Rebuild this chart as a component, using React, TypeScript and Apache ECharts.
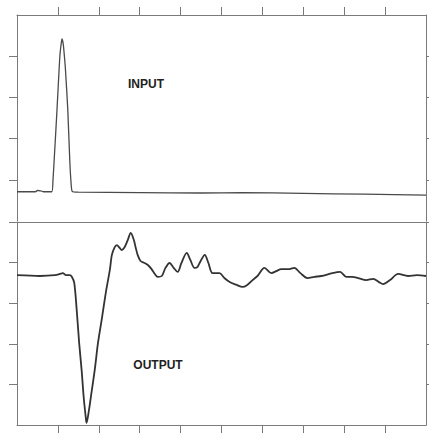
import React, { useEffect, useRef } from "react";
import * as echarts from "echarts";

// Time axis (10 divisions) shared by both panels
const xTicks = [1, 2, 3, 4, 5, 6, 7, 8, 9];
const yTicks = [1, 2, 3, 4];

// INPUT pulse
const inputX = [0, 0.45, 0.5, 0.58, 0.65, 0.85, 0.88, 0.91, 0.95, 0.98, 1.02, 1.05, 1.08, 1.10, 1.13, 1.15, 1.18, 1.20, 1.24, 1.29, 1.32, 1.35, 1.5, 3, 4.5, 5.5, 7, 8.5, 10];
const inputY = [0.71, 0.71, 0.74, 0.73, 0.71, 0.71, 1.0, 1.5, 2.2, 2.74, 3.5, 4.03, 4.3, 4.42, 4.3, 4.10, 3.75, 3.42, 2.74, 1.48, 0.95, 0.72, 0.70, 0.69, 0.68, 0.69, 0.67, 0.65, 0.63];

// OUTPUT response
const outputX = [0, 0.56, 0.93, 1.05, 1.12, 1.20, 1.29, 1.34, 1.40, 1.46, 1.52, 1.58, 1.63, 1.68, 1.70, 1.76, 1.82, 1.90, 1.98, 2.07, 2.17, 2.27, 2.32, 2.39, 2.44, 2.51, 2.56, 2.63, 2.71, 2.78, 2.85, 2.90, 2.95, 3.02, 3.12, 3.20, 3.29, 3.37, 3.44, 3.54, 3.63, 3.73, 3.83, 3.93, 4.02, 4.15, 4.24, 4.34, 4.41, 4.49, 4.59, 4.68, 4.78, 4.95, 5.07, 5.20, 5.37, 5.51, 5.63, 5.76, 5.88, 6.05, 6.22, 6.34, 6.46, 6.66, 6.78, 6.93, 7.10, 7.27, 7.44, 7.71, 7.90, 8.05, 8.20, 8.34, 8.54, 8.71, 8.85, 8.95, 9.12, 9.32, 9.56, 9.78, 10];
const outputY = [3.69, 3.67, 3.69, 3.72, 3.74, 3.69, 3.69, 3.65, 3.50, 2.83, 2.02, 1.35, 0.69, 0.20, 0.05, 0.37, 0.79, 1.35, 2.02, 2.59, 3.25, 3.82, 4.19, 4.38, 4.43, 4.36, 4.31, 4.38, 4.56, 4.73, 4.58, 4.38, 4.19, 4.04, 3.99, 3.94, 3.84, 3.72, 3.65, 3.67, 3.87, 3.99, 3.87, 3.77, 3.99, 4.24, 4.06, 3.87, 3.89, 4.04, 4.19, 3.99, 3.74, 3.74, 3.62, 3.52, 3.45, 3.40, 3.45, 3.57, 3.67, 3.87, 3.74, 3.79, 3.84, 3.84, 3.87, 3.74, 3.62, 3.65, 3.67, 3.74, 3.77, 3.65, 3.65, 3.62, 3.57, 3.60, 3.52, 3.47, 3.57, 3.72, 3.67, 3.69, 3.67];

const AXIS = "#7a7a7a";
const INK = "#333333";

export default function App() {
  const ref = useRef<HTMLDivElement>(null);
  useEffect(() => {
    if (!ref.current) return;
    const chart = echarts.init(ref.current, null, { renderer: "svg" });
    const line = { show: true, onZero: false, lineStyle: { color: AXIS, width: 1 } };
    const xBase = { type: "value", min: 0, max: 10, interval: 1, splitLine: { show: false }, axisLabel: { show: false } };
    const yBase = { type: "value", min: 0, max: 5, interval: 1, splitLine: { show: false }, axisLabel: { show: false } };
    chart.setOption({
      animation: false,
      backgroundColor: "#ffffff",
      grid: [
        { left: 17, top: 15, right: 3, height: 206 },
        { left: 17, top: 222, right: 3, height: 203 },
      ],
      xAxis: [
        { ...xBase, gridIndex: 0, position: "top", axisLine: line, axisTick: { show: true, inside: false, length: 8, customValues: xTicks, lineStyle: { color: AXIS } } },
        { ...xBase, gridIndex: 1, position: "bottom", axisLine: line, axisTick: { show: true, inside: false, length: 8, customValues: xTicks, lineStyle: { color: AXIS } } },
        { ...xBase, gridIndex: 1, position: "top", axisLine: line, axisTick: { show: false } },
      ],
      yAxis: [
        { ...yBase, gridIndex: 0, position: "left", axisLine: line, axisTick: { show: true, inside: false, length: 8, customValues: yTicks, lineStyle: { color: AXIS } } },
        { ...yBase, gridIndex: 0, position: "right", axisLine: line, axisTick: { show: true, inside: false, length: 4, customValues: yTicks, lineStyle: { color: AXIS } } },
        { ...yBase, gridIndex: 1, position: "left", axisLine: line, axisTick: { show: true, inside: false, length: 8, customValues: [1, 2, 3, 4, 5], lineStyle: { color: AXIS } } },
        { ...yBase, gridIndex: 1, position: "right", axisLine: line, axisTick: { show: true, inside: false, length: 4, customValues: [1, 2, 3, 4, 5], lineStyle: { color: AXIS } } },
      ],
      series: [
        {
          name: "INPUT",
          type: "line",
          xAxisIndex: 0,
          yAxisIndex: 0,
          data: inputX.map((x, i) => [x, inputY[i]]),
          showSymbol: false,
          smooth: 0.2,
          lineStyle: { color: "#4a4a4a", width: 1.3 },
        },
        {
          name: "OUTPUT",
          type: "line",
          xAxisIndex: 1,
          yAxisIndex: 2,
          data: outputX.map((x, i) => [x, outputY[i]]),
          showSymbol: false,
          smooth: 0.3,
          lineStyle: { color: INK, width: 1.8 },
        },
      ],
      graphic: [
        { type: "text", x: 146, y: 84, style: { text: "INPUT", fill: "#222", font: "bold 12px 'Liberation Sans', Arial, sans-serif", textAlign: "center", textVerticalAlign: "middle" } },
        { type: "text", x: 158, y: 365, style: { text: "OUTPUT", fill: "#222", font: "bold 12px 'Liberation Sans', Arial, sans-serif", textAlign: "center", textVerticalAlign: "middle" } },
      ],
    });
    return () => chart.dispose();
  }, []);
  return <div ref={ref} style={{ position: "fixed", left: 0, top: 0, width: 429, height: 433 }} />;
}
